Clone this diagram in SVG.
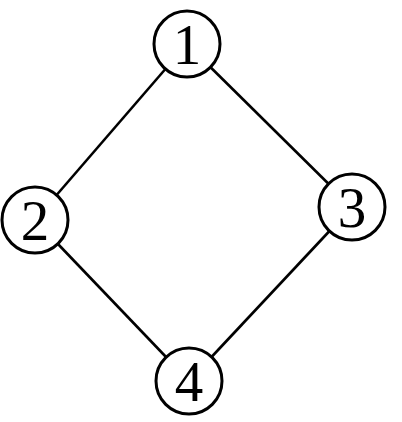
<svg xmlns="http://www.w3.org/2000/svg" width="402" height="422" viewBox="0 0 402 422">
<style>
.e{stroke:#000;stroke-width:2.6;fill:none}
.n circle{fill:#fff;stroke:#000;stroke-width:3}
.n text{font-family:"Liberation Serif","DejaVu Serif",serif;font-size:57px;text-anchor:middle;fill:#000}
</style>
<rect width="402" height="422" fill="#fff"/>
<g id="edges">
<line class="e" x1="187" y1="44" x2="35" y2="220"/>
<line class="e" x1="187" y1="44" x2="352" y2="207"/>
<line class="e" x1="35" y1="220" x2="189" y2="381"/>
<line class="e" x1="352" y1="207" x2="189" y2="381"/>
</g>
<g id="node1" class="n"><circle cx="187" cy="44" r="33"/><text x="187" y="64">1</text></g>
<g id="node2" class="n"><circle cx="35" cy="220" r="33"/><text x="35" y="240">2</text></g>
<g id="node3" class="n"><circle cx="352" cy="207" r="33"/><text x="352" y="227">3</text></g>
<g id="node4" class="n"><circle cx="189" cy="381" r="33"/><text x="189" y="401">4</text></g>
</svg>
